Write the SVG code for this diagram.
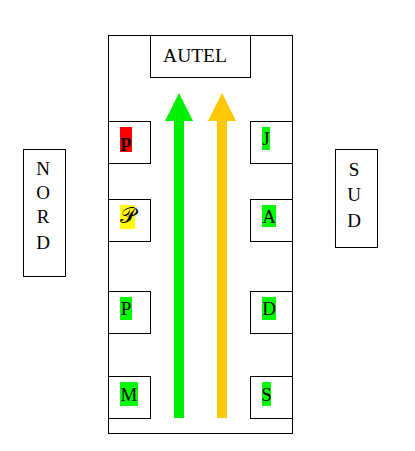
<svg xmlns="http://www.w3.org/2000/svg" width="415" height="451" viewBox="0 0 415 451">
<style>
.box{fill:#fff;stroke:#000;stroke-width:1}
.t{font-family:"Liberation Serif","DejaVu Serif",serif;font-size:19px;fill:#000}
.c{text-anchor:middle}
</style>
<rect width="415" height="451" fill="#fff"/>
<g id="main">
<rect class="box" x="108.5" y="35.5" width="184" height="398"/>
</g>
<g id="autel">
<rect class="box" x="150.5" y="35.5" width="100" height="42"/>
<text class="t" x="195" y="62" text-anchor="middle" style="font-size:19.5px">AUTEL</text>
</g>
<g id="nord">
<rect class="box" x="23.5" y="149.5" width="42" height="127"/>
<text class="t c" x="43" y="175">N</text>
<text class="t c" x="43" y="199">O</text>
<text class="t c" x="43" y="223">R</text>
<text class="t c" x="43" y="249">D</text>
</g>
<g id="sud">
<rect class="box" x="335.5" y="149.5" width="42" height="98"/>
<text class="t c" x="354" y="176">S</text>
<text class="t c" x="354" y="201">U</text>
<text class="t c" x="354" y="227">D</text>
</g>
<g id="connectors">
<rect x="174" y="119" width="10" height="299" fill="#00ee00"/>
<polygon points="179,93 165,121 193,121" fill="#00ee00"/>
<rect x="217" y="119" width="10" height="299" fill="#ffc800"/>
<polygon points="222,93 208,121 236,121" fill="#ffc800"/>
</g>
<g id="l1">
<rect class="box" x="108.5" y="121.5" width="42" height="42"/>
<rect x="120" y="127" width="12" height="25" fill="#ff0000"/>
<text class="t c" x="126" y="147" font-weight="bold">p</text>
</g>
<g id="l2">
<rect class="box" x="108.5" y="199.5" width="42" height="42"/>
<rect x="120" y="205" width="15" height="24" fill="#ffff00"/>
<text class="t c" x="127.5" y="223" style="font-size:22px">𝒫</text>
</g>
<g id="l3">
<rect class="box" x="108.5" y="291.5" width="42" height="42"/>
<rect x="120" y="297" width="12" height="23" fill="#00ff00"/>
<text class="t c" x="126" y="315">P</text>
</g>
<g id="l4">
<rect class="box" x="108.5" y="376.5" width="42" height="42"/>
<rect x="120" y="382" width="18" height="24" fill="#00ff00"/>
<text class="t c" x="129" y="401">M</text>
</g>
<g id="r1">
<rect class="box" x="250.5" y="121.5" width="42" height="42"/>
<rect x="262" y="127" width="8" height="23" fill="#00ff00"/>
<text class="t c" x="266" y="145">J</text>
</g>
<g id="r2">
<rect class="box" x="250.5" y="199.5" width="42" height="42"/>
<rect x="262" y="205" width="14" height="22" fill="#00ff00"/>
<text class="t c" x="269" y="223">A</text>
</g>
<g id="r3">
<rect class="box" x="250.5" y="291.5" width="42" height="42"/>
<rect x="262" y="297" width="14" height="23" fill="#00ff00"/>
<text class="t c" x="269" y="315">D</text>
</g>
<g id="r4">
<rect class="box" x="250.5" y="376.5" width="42" height="42"/>
<rect x="262" y="382" width="9" height="24" fill="#00ff00"/>
<text class="t c" x="266.5" y="401">S</text>
</g>
</svg>
